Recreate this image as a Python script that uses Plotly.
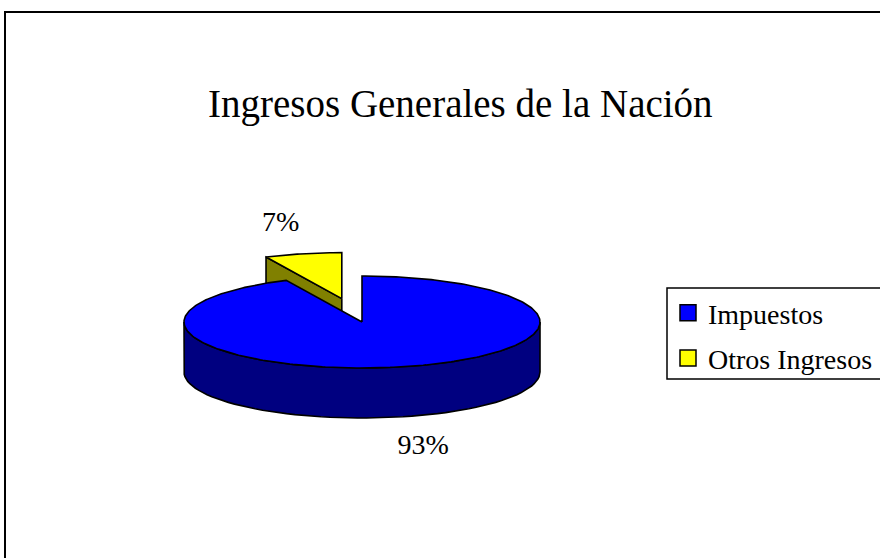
import numpy as np
import plotly.graph_objects as go

# ---- data ----
categories = ["Impuestos", "Otros Ingresos"]
values = [93, 7]
title_text = "Ingresos Generales de la Nación"

# ---- styles ----
top_colors = ["#0000FF", "#FFFF00"]
side_colors = ["#000080", "#808000"]
explode = [0.0, 0.52]          # fraction of radius
W, H = 880, 558                # page pixels
CX, CY = 362, 322              # pie centre (pixels)
RX, RY = 178, 46               # ellipse radii
DEPTH = 50
LBL_RX, LBL_RY = 280, 77
FONT = "Liberation Serif, Times New Roman, serif"

total = float(sum(values))
fractions = [v / total for v in values]


def pt(cx, cy, a, dz=0.0):
    r = np.radians(a)
    return cx + RX * np.sin(r), cy - RY * np.cos(r) + dz


def arc(cx, cy, a0, a1, dz=0.0, n=120):
    angs = np.linspace(a0, a1, max(2, int(n * abs(a1 - a0) / 360) + 2))
    r = np.radians(angs)
    return list(cx + RX * np.sin(r)), list(cy - RY * np.cos(r) + dz)


fig = go.Figure()
side_traces, top_traces, labels = [], [], []

start = 0.0
for i, (cat, frac) in enumerate(zip(categories, fractions)):
    a0, a1 = start, start + frac * 360.0
    mid = np.radians((a0 + a1) / 2)
    e = explode[i] * RX
    cx = CX + e * np.sin(mid)
    cy = CY - e * np.cos(mid) * RY / RX

    # radial face at start angle
    if np.sin(np.radians(a0)) < -1e-9:
        ox, oy = pt(cx, cy, a0)
        side_traces.append(dict(x=[cx, ox, ox, cx, cx], y=[cy, oy, oy + DEPTH, cy + DEPTH, cy], c=side_colors[i]))
    # radial face at end angle
    if np.sin(np.radians(a1)) > 1e-9:
        ox, oy = pt(cx, cy, a1)
        side_traces.append(dict(x=[cx, ox, ox, cx, cx], y=[cy, oy, oy + DEPTH, cy + DEPTH, cy], c=side_colors[i]))
    # outer wall (front half, 90..270)
    w0, w1 = max(a0, 90.0), min(a1, 270.0)
    if w1 > w0:
        tx, ty = arc(cx, cy, w0, w1)
        bx, by = arc(cx, cy, w1, w0, dz=DEPTH)
        side_traces.append(dict(x=tx + bx + [tx[0]], y=ty + by + [ty[0]], c=side_colors[i]))
    # top face
    ax_, ay_ = arc(cx, cy, a0, a1, n=360)
    top_traces.append(dict(x=[cx] + ax_ + [cx], y=[cy] + ay_ + [cy], c=top_colors[i]))
    # label
    lx = cx + LBL_RX * np.sin(mid)
    ly = cy - LBL_RY * np.cos(mid) + (DEPTH if np.cos(mid) < 0 else 0)
    labels.append((lx, ly, f"{round(frac * 100):d}%"))
    start = a1

for tr in side_traces + top_traces:
    fig.add_trace(go.Scatter(x=tr["x"], y=tr["y"], mode="lines", fill="toself",
                             fillcolor=tr["c"], line=dict(color="black", width=1.6),
                             hoverinfo="skip", showlegend=False))

fig.add_trace(go.Scatter(x=[l[0] for l in labels], y=[l[1] for l in labels],
                         text=[l[2] for l in labels], mode="text",
                         textfont=dict(family=FONT, size=28, color="black"),
                         hoverinfo="skip", showlegend=False))

# legend entries
for i, cat in enumerate(categories):
    fig.add_trace(go.Scatter(x=[None], y=[None], mode="markers", name=cat,
                             legendgroup=cat,
                             marker=dict(symbol="square", size=16, color=top_colors[i],
                                         line=dict(color="black", width=1.5))))

fig.add_annotation(x=460, y=104, text=title_text, showarrow=False,
                   font=dict(family=FONT, size=39, color="black"),
                   xanchor="center", yanchor="middle")

# chart area frame
fig.add_shape(type="rect", x0=5, y0=12, x1=W + 20, y1=H + 20,
              line=dict(color="black", width=2), fillcolor="rgba(0,0,0,0)")
# legend frame (extends past the right edge, as in the original)
fig.add_shape(type="rect", x0=667, y0=288, x1=W + 30, y1=379,
              line=dict(color="black", width=1.5), fillcolor="white", layer="below")

fig.update_layout(
    width=W, height=H,
    margin=dict(l=0, r=0, t=0, b=0),
    paper_bgcolor="white", plot_bgcolor="white",
    xaxis=dict(range=[0, W], visible=False, fixedrange=True),
    yaxis=dict(range=[H, 0], visible=False, fixedrange=True),
    showlegend=True,
    legend=dict(x=668 / W, y=1 - 288 / H, xanchor="left", yanchor="top",
                bgcolor="rgba(0,0,0,0)", borderwidth=0,
                font=dict(family=FONT, size=28, color="black"),
                tracegroupgap=6, itemsizing="trace"),
)

fig.write_html("out.html", config={"displayModeBar": False, "staticPlot": True},
               post_script="document.body.style.margin='0';document.body.style.overflow='hidden';")
